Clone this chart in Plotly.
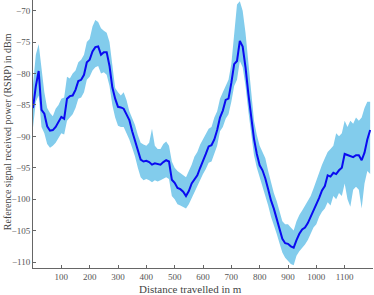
import plotly.graph_objects as go

distance = list(range(0, 1200, 10))

rsrp_mean = [
    -85.5, -82.0, -79.6, -85.8, -86.4, -88.4, -89.1, -89.0, -88.5, -87.8,
    -86.9, -87.2, -84.0, -83.6, -83.5, -82.6, -81.2, -81.0, -80.2, -78.2,
    -77.8, -76.5, -75.8, -75.7, -77.0, -76.6, -76.6, -78.8, -82.2, -84.0,
    -85.3, -85.4, -85.6, -86.5, -87.4, -89.2, -90.8, -92.5, -93.7, -94.0,
    -93.9, -94.1, -94.5, -94.3, -94.4, -94.5, -94.1, -93.8, -94.0, -96.9,
    -97.4, -98.2, -98.4, -98.8, -99.5, -98.7, -97.5, -96.8, -96.2, -95.0,
    -94.0, -92.8, -91.6, -91.4, -90.5, -89.0, -87.0, -85.9, -84.2, -84.0,
    -81.5, -78.5, -78.0, -74.8, -75.7, -79.0, -83.2, -87.3, -90.4, -92.8,
    -94.6, -95.4, -96.7, -98.4, -100.2, -101.5, -103.1, -104.5, -106.3, -107.0,
    -107.1, -107.5, -107.7, -106.5, -105.5, -104.8, -104.5, -103.8, -102.8, -101.9,
    -100.8, -99.8, -98.6, -97.9, -96.2, -96.4, -95.8, -96.0, -95.4, -95.0,
    -92.8, -93.0, -93.2, -93.3, -93.0, -93.0, -93.8, -92.6, -90.5, -89.0,
]

rsrp_upper = [
    -81.8, -77.0, -75.3, -79.5, -83.0, -85.5, -86.3, -86.8, -85.6, -85.0,
    -84.0, -83.8, -80.5, -80.8, -80.0, -79.5, -78.2, -77.8, -77.0, -75.0,
    -74.5, -72.5, -71.5, -71.8, -72.8, -73.2, -73.5, -75.0, -79.0, -82.3,
    -83.0, -83.5, -83.0, -84.2, -86.0, -87.0, -88.2, -89.8, -91.0, -91.3,
    -91.5, -91.0, -88.8, -91.5, -92.0, -92.0, -91.2, -90.8, -91.5, -94.0,
    -95.0, -95.5, -95.8, -96.2, -96.5, -95.5, -94.5, -93.2, -92.5, -91.3,
    -90.5, -89.6, -88.8, -88.5, -87.0, -86.0, -84.0, -83.0, -82.0, -81.0,
    -78.5, -74.0, -69.0, -68.5, -70.0, -73.5, -78.5, -83.5, -87.5, -89.8,
    -91.5, -92.5, -93.5, -95.5, -97.5, -99.0, -100.3, -102.0, -103.5, -104.0,
    -104.0, -104.5, -105.0, -103.5, -102.5, -101.8, -101.0, -100.2, -99.5, -98.3,
    -97.0, -95.5, -94.5, -93.5, -92.5, -92.0, -91.5, -89.5, -90.0, -89.5,
    -87.5, -88.5, -87.5, -88.0, -87.0, -87.5, -87.0, -85.5, -84.5, -84.5,
]

rsrp_lower = [
    -88.6, -84.5, -83.5, -88.5, -89.5, -91.2, -91.8, -91.5, -91.0, -90.3,
    -89.5, -89.7, -87.5, -87.0, -86.5, -85.5, -84.0, -83.8, -83.0, -81.0,
    -80.5, -79.5, -79.0, -78.8, -80.0, -79.8, -80.2, -82.0, -85.0, -87.0,
    -88.3, -88.5, -88.5, -89.5, -90.5, -91.8, -93.2, -95.0, -96.5, -97.0,
    -96.8, -97.0, -97.3, -97.0, -97.2, -97.0, -96.8, -96.5, -96.8, -99.5,
    -100.0, -100.8, -101.0, -101.2, -101.5, -100.8, -99.8, -99.0, -98.0, -97.0,
    -96.0, -95.2, -94.2, -94.0, -92.8, -91.5, -89.2, -88.5, -87.2, -86.5,
    -84.5, -82.0, -81.0, -78.0, -79.0, -82.0, -86.0, -89.5, -93.0, -95.0,
    -96.5, -97.8, -99.3, -101.0, -102.8, -104.0, -105.5, -107.0, -108.5, -109.3,
    -109.8, -110.3, -110.5, -109.0, -108.3, -107.8, -107.2, -106.5, -105.5, -104.5,
    -104.0, -102.8, -102.0, -101.5, -100.5, -101.0, -99.5, -100.0, -99.0, -99.5,
    -97.5, -100.0, -101.2, -98.5, -98.0, -98.5, -101.5, -97.5, -95.5, -96.0,
]

x_ticks = [100, 200, 300, 400, 500, 600, 700, 800, 900, 1000, 1100]
y_ticks = [-110, -105, -100, -95, -90, -85, -80, -75, -70]

band_color = "rgb(130,204,236)"
line_color = "rgb(10,10,240)"
serif = "Liberation Serif, Times New Roman, serif"

fig = go.Figure()
fig.add_trace(go.Scatter(x=distance, y=rsrp_upper, mode="lines",
                         line=dict(width=0, color=band_color),
                         hoverinfo="skip", showlegend=False))
fig.add_trace(go.Scatter(x=distance, y=rsrp_lower, mode="lines",
                         line=dict(width=0, color=band_color),
                         fill="tonexty", fillcolor=band_color,
                         hoverinfo="skip", showlegend=False))
fig.add_trace(go.Scatter(x=distance, y=rsrp_mean, mode="lines",
                         line=dict(width=2, color=line_color),
                         showlegend=False))

fig.update_layout(
    width=374, height=295,
    margin=dict(l=33, r=1, t=0, b=27, autoexpand=False),
    paper_bgcolor="white", plot_bgcolor="white",
    font=dict(family=serif, size=9, color="#555"),
    annotations=[
        dict(text="Distance travelled in m", xref="paper", yref="paper",
             x=0.462, y=-0.078, xanchor="center", yanchor="middle",
             showarrow=False, font=dict(family=serif, size=11, color="#444")),
        dict(text="Reference signal received power (RSRP) in dBm",
             xref="paper", yref="paper", x=-0.074, y=0.51,
             xanchor="center", yanchor="middle", textangle=-90,
             showarrow=False, font=dict(family=serif, size=10, color="#444")),
    ],
)
fig.update_xaxes(
    range=[0, 1200], tickvals=x_ticks, showgrid=False, zeroline=False,
    automargin=False,
    showline=True, linecolor="#666", linewidth=1,
    ticks="inside", ticklen=3, tickcolor="#666",
    tickfont=dict(family=serif, size=9, color="#555"),
)
fig.update_yaxes(
    range=[-110.95, -68.3], tickvals=y_ticks, showgrid=False, zeroline=False,
    automargin=False,
    showline=True, linecolor="#666", linewidth=1,
    ticks="inside", ticklen=3, tickcolor="#666",
    tickfont=dict(family=serif, size=9, color="#555"),
)

fig.write_html("out.html",
               config={"displayModeBar": False},
               post_script="document.body.style.margin='0';"
                           "document.body.style.overflow='hidden';")
